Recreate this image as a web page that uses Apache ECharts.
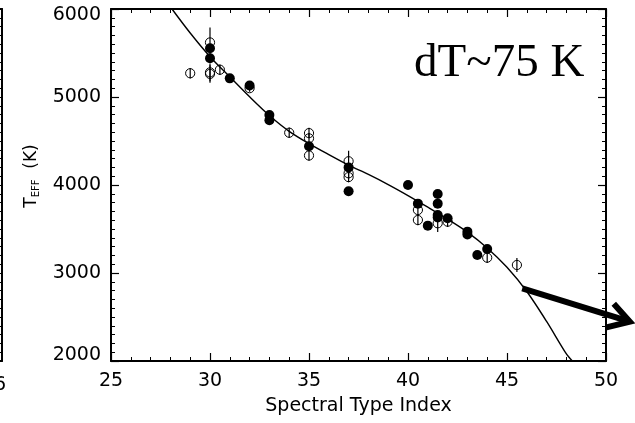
<!DOCTYPE html>
<html>
<head>
<meta charset="utf-8">
<script src="https://cdn.jsdelivr.net/npm/echarts@6/dist/echarts.min.js"></script>
<style>
html,body{margin:0;padding:0;background:#fff;}
#chart{width:635px;height:423px;}
</style>
</head>
<body>
<div id="chart"></div>
<script>
// ---- data ----
const xTickValues = [25, 30, 35, 40, 45, 50];
const yTickValues = [2000, 3000, 4000, 5000, 6000];

// filled circles: spectral type index, Teff
const filledX = [30, 30, 31, 32, 33, 33, 35, 37, 37, 40, 40.5, 41, 41.5, 41.5, 41.5, 41.5, 42, 43, 43, 43.5, 44];
const filledT = [5553, 5440, 5212, 5130, 4795, 4735, 4440, 4200, 3928, 4000, 3788, 3538, 3898, 3788, 3659, 3632, 3622, 3470, 3438, 3205, 3273];

// open circles with vertical error bars: index, Teff, lower err, upper err
const openX  = [29, 30, 30, 30, 30.5, 32, 34, 35, 35, 35, 37, 37, 37, 40.5, 40.5, 41.5, 42, 44, 45.5];
const openT  = [5270, 5620, 5262, 5280, 5310, 5100, 4594, 4590, 4530, 4335, 4270, 4133, 4090, 3716, 3602, 3565, 3583, 3174, 3091];
const openLo = [60, 170, 100, 100, 60, 40, 60, 60, 60, 60, 60, 60, 60, 60, 60, 100, 60, 60, 80];
const openHi = [60, 170, 100, 100, 60, 40, 60, 60, 60, 60, 120, 60, 60, 60, 60, 60, 60, 60, 80];

// fitted relation
const fitX = [28.08, 29, 30, 31, 32, 33, 34, 35, 36, 37, 38, 39, 40, 41, 42, 43, 44, 45, 46, 47, 48, 48.3];
const fitT = [6000, 5727, 5458, 5230, 5003, 4790, 4610, 4470, 4345, 4225, 4120, 4005, 3880, 3748, 3612, 3465, 3285, 3065, 2790, 2450, 2080, 2000];

// arrow annotation (start index, start Teff, end index, end Teff)
const arrowFrom = [45.77, 2826];
const arrowTo = [51.2, 2447];

const annotationText = 'dT~75 K';
const xName = 'Spectral Type Index';

// ---- chart ----
const chart = echarts.init(document.getElementById('chart'), null, {renderer: 'canvas'});
const FONT = 'DejaVu Sans';
const black = '#000';

function zip(a, b) { return a.map((v, i) => [v, b[i]]); }

const tickCommon = {
  axisLine: {show: true, onZero: false, lineStyle: {color: black, width: 2}},
  axisTick: {show: true, inside: true, length: 8, lineStyle: {color: black, width: 1.2}},
  splitLine: {show: false},
  minorSplitLine: {show: false}
};
const xMinor = {minorTick: {show: true, splitNumber: 5, length: 4, lineStyle: {color: black, width: 1}}};
const yMinor = {minorTick: {show: true, splitNumber: 10, length: 4, lineStyle: {color: black, width: 1}}};

const option = {
  backgroundColor: '#fff',
  animation: false,
  title: {
    text: annotationText,
    left: 409, top: 35,
    textStyle: {fontFamily: 'Liberation Serif', fontSize: 47, fontWeight: 'normal', color: black}
  },
  grid: [
    {left: 111, right: 29, top: 9, bottom: 62, containLabel: false, outerBoundsMode: 'none'},
    {left: -300, width: 302, top: 9, bottom: 62, containLabel: false, outerBoundsMode: 'none'}
  ],
  xAxis: [
    Object.assign({
      type: 'value', gridIndex: 0, position: 'bottom', min: 25, max: 50, interval: 5,
      name: xName, nameLocation: 'middle', nameGap: 36,
      nameTextStyle: {fontFamily: FONT, fontSize: 19, color: black},
      axisLabel: {show: true, fontFamily: FONT, fontSize: 19, color: black, margin: 11,
        formatter: v => xTickValues.includes(v) ? String(v) : ''}
    }, tickCommon, xMinor),
    Object.assign({
      type: 'value', gridIndex: 0, position: 'top', min: 25, max: 50, interval: 5,
      axisLabel: {show: false}
    }, tickCommon, xMinor),
    {type: 'value', gridIndex: 1, position: 'bottom', min: 0, max: 1,
      axisLine: {show: true, onZero: false, lineStyle: {color: black, width: 2}},
      axisTick: {show: false}, axisLabel: {show: false}, splitLine: {show: false}},
    {type: 'value', gridIndex: 1, position: 'top', min: 0, max: 1,
      axisLine: {show: true, onZero: false, lineStyle: {color: black, width: 2}},
      axisTick: {show: false}, axisLabel: {show: false}, splitLine: {show: false}}
  ],
  yAxis: [
    Object.assign({
      type: 'value', gridIndex: 0, position: 'left', min: 2000, max: 6000, interval: 1000,
      name: '{t|T}{s|EFF}{k|  (K)}', nameLocation: 'middle', nameGap: 70,
      nameTextStyle: {padding: [0, 0, 0, 18], rich: {
        t: {fontFamily: FONT, fontSize: 17, color: black},
        s: {fontFamily: FONT, fontSize: 10, color: black, verticalAlign: 'bottom', padding: [0, 0, -2, 0]},
        k: {fontFamily: FONT, fontSize: 17, color: black}
      }},
      axisLabel: {show: true, margin: 10, color: black,
        formatter: v => {
          if (!yTickValues.includes(v)) return '';
          if (v === 6000) return '{hi|' + v + '}';
          if (v === 2000) return '{lo|' + v + '}';
          return '{n|' + v + '}';
        },
        rich: {
          n: {fontFamily: FONT, fontSize: 19, color: black},
          hi: {fontFamily: FONT, fontSize: 19, color: black, padding: [13, 0, 0, 0]},
          lo: {fontFamily: FONT, fontSize: 19, color: black, padding: [0, 0, 12, 0]}
        }
      }
    }, tickCommon, yMinor),
    Object.assign({
      type: 'value', gridIndex: 0, position: 'right', min: 2000, max: 6000, interval: 1000,
      axisLabel: {show: false}
    }, tickCommon, yMinor),
    Object.assign({
      type: 'value', gridIndex: 1, position: 'right', min: 2000, max: 6000, interval: 1000,
      axisLabel: {show: false}
    }, tickCommon, yMinor)
  ],
  graphic: [
    {type: 'text', left: -6, top: 376, style: {text: '6', font: '19px "DejaVu Sans"', fill: black}}
  ],
  series: [
    {
      type: 'line', xAxisIndex: 0, yAxisIndex: 0, data: zip(fitX, fitT),
      smooth: 0.3, showSymbol: false, symbol: 'none', clip: true,
      lineStyle: {color: black, width: 1.4}, z: 2
    },
    {
      type: 'custom', xAxisIndex: 0, yAxisIndex: 0,
      data: openX.map((x, i) => [x, openT[i], openLo[i], openHi[i]]),
      renderItem: function (params, api) {
        const x = api.value(0), t = api.value(1), lo = api.value(2), hi = api.value(3);
        const c = api.coord([x, t]);
        const top = api.coord([x, t + hi]);
        const bot = api.coord([x, t - lo]);
        return {type: 'group', children: [
          {type: 'circle', shape: {cx: c[0], cy: c[1], r: 4.6}, style: {fill: 'none', stroke: black, lineWidth: 1}},
          {type: 'line', shape: {x1: c[0], y1: top[1], x2: c[0], y2: bot[1]}, style: {stroke: black, lineWidth: 1.2}}
        ]};
      },
      z: 3
    },
    {
      type: 'scatter', xAxisIndex: 0, yAxisIndex: 0, data: zip(filledX, filledT),
      symbol: 'circle', symbolSize: 10, itemStyle: {color: black, opacity: 1}, z: 4
    },
    {
      type: 'custom', xAxisIndex: 0, yAxisIndex: 0, clip: false,
      data: [[arrowFrom[0], arrowFrom[1], arrowTo[0], arrowTo[1]]],
      renderItem: function (params, api) {
        const p0 = api.coord([api.value(0), api.value(1)]);
        const p1 = api.coord([api.value(2), api.value(3)]);
        const ang = Math.atan2(p0[1] - p1[1], p0[0] - p1[0]);
        const L = 24, spread = 31 * Math.PI / 180;
        const b1 = [p1[0] + L * Math.cos(ang + spread), p1[1] + L * Math.sin(ang + spread)];
        const b2 = [p1[0] + L * Math.cos(ang - spread), p1[1] + L * Math.sin(ang - spread)];
        return {type: 'group', children: [
          {type: 'line', shape: {x1: p0[0], y1: p0[1], x2: p1[0], y2: p1[1]}, style: {stroke: black, lineWidth: 6}},
          {type: 'polyline', shape: {points: [b1, p1, b2]}, style: {stroke: black, lineWidth: 6, fill: null, lineJoin: 'miter'}}
        ]};
      },
      z: 5
    }
  ]
};
chart.setOption(option);
</script>
</body>
</html>
